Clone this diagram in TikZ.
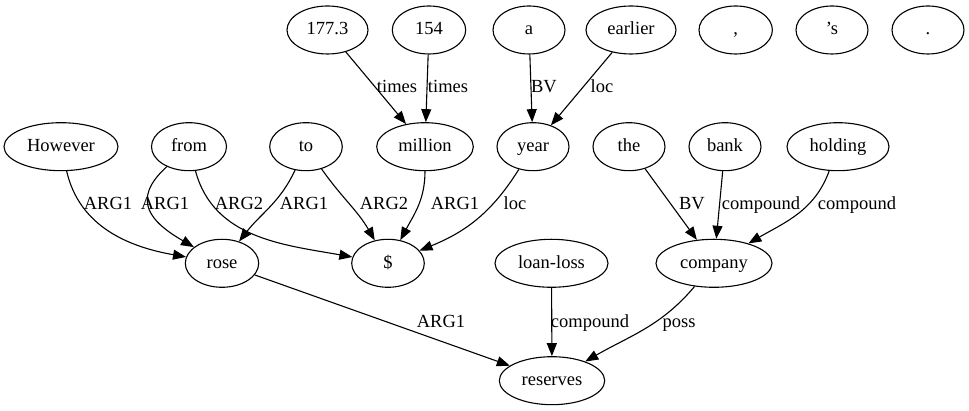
\documentclass[tikz,border=0pt]{standalone}
\usepackage{fontspec}
\setmainfont{Liberation Serif}
\usetikzlibrary{shapes.geometric,arrows.meta}
\begin{document}
\begin{tikzpicture}[x=1pt,y=1pt,
  font=\fontsize{18.5}{20}\selectfont,
  tok/.style={ellipse,draw,line width=1.1pt,minimum height=48pt,inner sep=0pt,
    text height=13pt,text depth=3pt},
  rel/.style={-{Triangle[length=13pt,width=10pt]},line width=1.1pt},
  lab/.style={inner sep=0pt,text height=13pt,text depth=3pt}]
\useasboundingbox (0,0) rectangle (969,411);

% top row
\node[tok,minimum width=81pt]   (n1773)   at (327.5,381) {177.3};
\node[tok,minimum width=73.4pt] (n154)    at (429,381)   {154};
\node[tok,minimum width=72pt]   (a)       at (529,381)   {a};
\node[tok,minimum width=90pt]   (earlier) at (631,381)   {earlier};
\node[tok,minimum width=73.4pt] (comma)   at (735.7,381) {,};
\node[tok,minimum width=72pt]   (poss)    at (832,381)   {’s};
\node[tok,minimum width=72pt]   (dot)     at (928,381)   {.};

% second row
\node[tok,minimum width=114pt]  (however) at (61,264.3)  {However};
\node[tok,minimum width=75pt]   (from)    at (189,264.3) {from};
\node[tok,minimum width=72.6pt] (to)      at (306,264.3) {to};
\node[tok,minimum width=96.6pt] (million) at (425,264.3) {million};
\node[tok,minimum width=72pt]   (year)    at (533,264.3) {year};
\node[tok,minimum width=72pt]   (the)     at (629,264.3) {the};
\node[tok,minimum width=72pt]   (bank)    at (725,264.3) {bank};
\node[tok,minimum width=102pt]  (holding) at (838,264.3) {holding};

% third row
\node[tok,minimum width=73.4pt] (rose)     at (222,147.7)   {rose};
\node[tok,minimum width=72.6pt] (dollar)   at (388,147.7)   {\$};
\node[tok,minimum width=113pt]  (loanloss) at (551.5,147.7) {loan-loss};
\node[tok,minimum width=116pt]  (company)  at (714,147.7)   {company};

% bottom row
\node[tok,minimum width=105.4pt] (reserves) at (552,30.3) {reserves};

% edges
\draw[rel] (n1773) -- (million);
\draw[rel] (n154) -- (million);
\draw[rel] (a) -- (year);
\draw[rel] (earlier) -- (year);
\draw[rel] (however) to[out=283,in=170] (rose);
\draw[rel] (from) to[out=222,in=150,looseness=1.5] (rose);
\draw[rel] (from) to[out=285,in=170] (dollar);
\draw[rel] (to) to[out=245,in=52] (rose);
\draw[rel] (to) to[out=-55,in=120] (dollar);
\draw[rel] (million) to[out=270,in=62] (dollar);
\draw[rel] (year) to[out=238,in=22] (dollar);
\draw[rel] (the) -- (company);
\draw[rel] (bank) -- (company);
\draw[rel] (holding) to[out=250,in=30] (company);
\draw[rel] (rose) -- (reserves);
\draw[rel] (loanloss) -- (reserves);
\draw[rel] (company) to[out=230,in=30] (reserves);

% edge labels
\node[lab] (l1) at (397,323.7) {times};
\node[lab] (l2) at (448,323.7) {times};
\node[lab] (l3) at (544,323.7) {BV};
\node[lab] (l4) at (602,323.7) {loc};
\node[lab] (l5) at (108,206) {ARG1};
\node[lab] (l6) at (165,206) {ARG1};
\node[lab] (l7) at (239,206) {ARG2};
\node[lab] (l8) at (304,206) {ARG1};
\node[lab] (l9) at (384,206) {ARG2};
\node[lab] (l10) at (455,206) {ARG1};
\node[lab] (l11) at (515,206) {loc};
\node[lab] (l12) at (692,206) {BV};
\node[lab] (l13) at (761,206) {compound};
\node[lab] (l14) at (857,206) {compound};
\node[lab] (l15) at (441,88.3) {ARG1};
\node[lab] (l16) at (590,88.3) {compound};
\node[lab] (l17) at (679,88.3) {poss};
\end{tikzpicture}
\end{document}
